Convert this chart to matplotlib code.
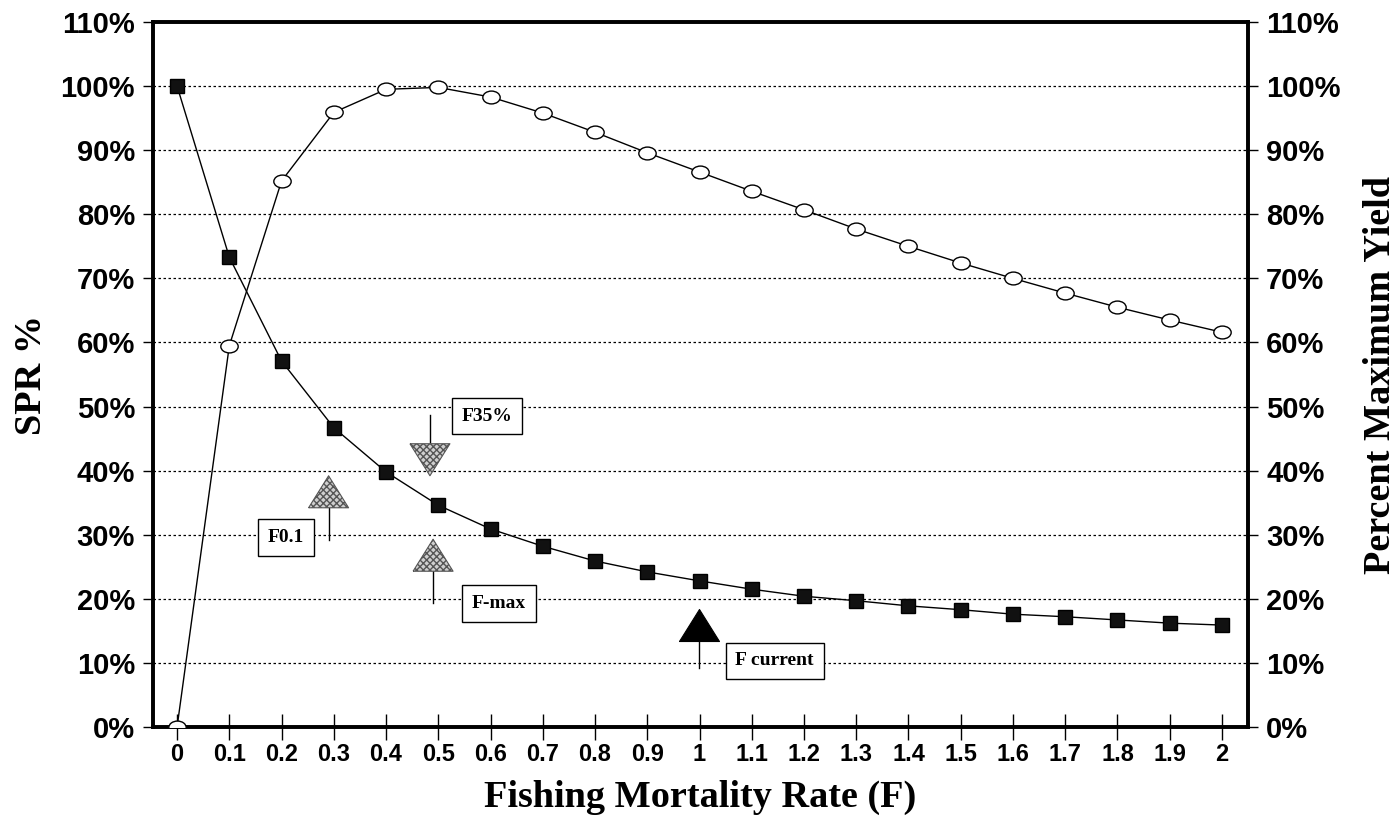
import numpy as np
import matplotlib.pyplot as plt
from matplotlib.path import Path
from matplotlib.transforms import Affine2D

# data
f_values = [0.0, 0.1, 0.2, 0.3, 0.4, 0.5, 0.6, 0.7, 0.8, 0.9, 1.0,
            1.1, 1.2, 1.3, 1.4, 1.5, 1.6, 1.7, 1.8, 1.9, 2.0]
f_labels = ['0', '0.1', '0.2', '0.3', '0.4', '0.5', '0.6', '0.7', '0.8', '0.9', '1',
            '1.1', '1.2', '1.3', '1.4', '1.5', '1.6', '1.7', '1.8', '1.9', '2']
spr_pct = [100.0, 73.3, 57.1, 46.7, 39.8, 34.6, 30.9, 28.2, 25.9, 24.2, 22.8,
           21.5, 20.4, 19.7, 18.9, 18.3, 17.6, 17.2, 16.7, 16.2, 15.9]
yield_pct = [0.0, 59.5, 85.2, 95.9, 99.5, 99.8, 98.3, 95.8, 92.8, 89.6, 86.6,
             83.6, 80.7, 77.7, 75.0, 72.4, 70.0, 67.7, 65.5, 63.5, 61.6]
pct_ticks = [0, 10, 20, 30, 40, 50, 60, 70, 80, 90, 100, 110]

# reference point annotations
ref_names = ['F0.1', 'F35%', 'F-max', 'F current']
ref_f = [0.29, 0.484, 0.49, 0.999]
ref_marker_y = [36.7, 41.7, 26.8, 15.9]
ref_stem_end = [29.2, 48.7, 19.3, 9.2]
ref_up = [True, False, True, True]
ref_label_x = [0.2086, 0.593, 0.616, 1.144]
ref_label_y = [29.6, 48.5, 19.3, 10.3]

tick_font = 'Liberation Sans'
label_font = 'Liberation Serif'

fig = plt.figure(figsize=(13.99, 8.22), dpi=100)
ax = fig.add_axes([0.1094, 0.1156, 0.7827, 0.8576])
ax2 = ax.twinx()

for a in (ax, ax2):
    a.set_ylim(0, 110)
    a.set_xlim(-0.046, 2.05)
    a.set_yticks(pct_ticks)
    a.set_yticklabels([f'{p}%' for p in pct_ticks], fontfamily=tick_font,
                      fontweight='bold', fontsize=21)
    for s in a.spines.values():
        s.set_linewidth(2.6)

ax.tick_params(axis='y', direction='out', length=7, width=1, pad=6)
ax2.tick_params(axis='y', direction='out', length=7, width=1, pad=6)
ax.set_xticks(f_values)
ax.set_xticklabels(f_labels, fontfamily=tick_font, fontweight='bold', fontsize=17)
ax.tick_params(axis='x', direction='inout', length=19, width=1, pad=2)

for p in pct_ticks[1:-1]:
    ax.axhline(p, color='black', lw=0.9, ls=(0, (2, 2)), zorder=0.5)

# ellipse marker for the yield series
ellipse = Path.unit_circle().transformed(Affine2D().scale(1.0, 0.74))

ax.plot(f_values, spr_pct, color='black', lw=1, marker='s', markersize=10,
        markerfacecolor='#111111', markeredgecolor='black', zorder=3)
ax2.plot(f_values, yield_pct, color='black', lw=1, marker=ellipse, markersize=12.5,
         markerfacecolor='white', markeredgecolor='black', markeredgewidth=1, zorder=3)

# triangle markers with stems and boxed labels
tri_up = [(-1.0, -0.8), (1.0, -0.8), (0.0, 0.8), (-1.0, -0.8)]
tri_down = [(-1.0, 0.8), (1.0, 0.8), (0.0, -0.8), (-1.0, 0.8)]
plt.rcParams['hatch.color'] = '#555555'
for i, name in enumerate(ref_names):
    ax2.plot([ref_f[i], ref_f[i]], [ref_marker_y[i], ref_stem_end[i]],
             color='black', lw=1, zorder=4)
    black = name == 'F current'
    ax2.scatter([ref_f[i]], [ref_marker_y[i]], s=830,
                marker=tri_up if ref_up[i] else tri_down,
                facecolor='black' if black else '#cfcfcf',
                edgecolor='black' if black else '#555555',
                hatch=None if black else 'xxxxx', linewidth=0.8, zorder=5)
    ax2.text(ref_label_x[i], ref_label_y[i], name, ha='center', va='center',
             fontfamily=label_font, fontweight='bold', fontsize=14, zorder=6,
             bbox=dict(boxstyle='square,pad=0.5', facecolor='white',
                       edgecolor='black', linewidth=1))

ax.set_xlabel('Fishing Mortality Rate (F)', fontfamily=label_font,
              fontweight='bold', fontsize=27.5, labelpad=10)
ax.set_ylabel('SPR %', fontfamily=label_font, fontweight='bold', fontsize=27.5,
              labelpad=8)
ax2.set_ylabel('Percent Maximum Yield', fontfamily=label_font, fontweight='bold',
               fontsize=27.5, labelpad=16)

fig.savefig('out.png', dpi=100, facecolor='white')
